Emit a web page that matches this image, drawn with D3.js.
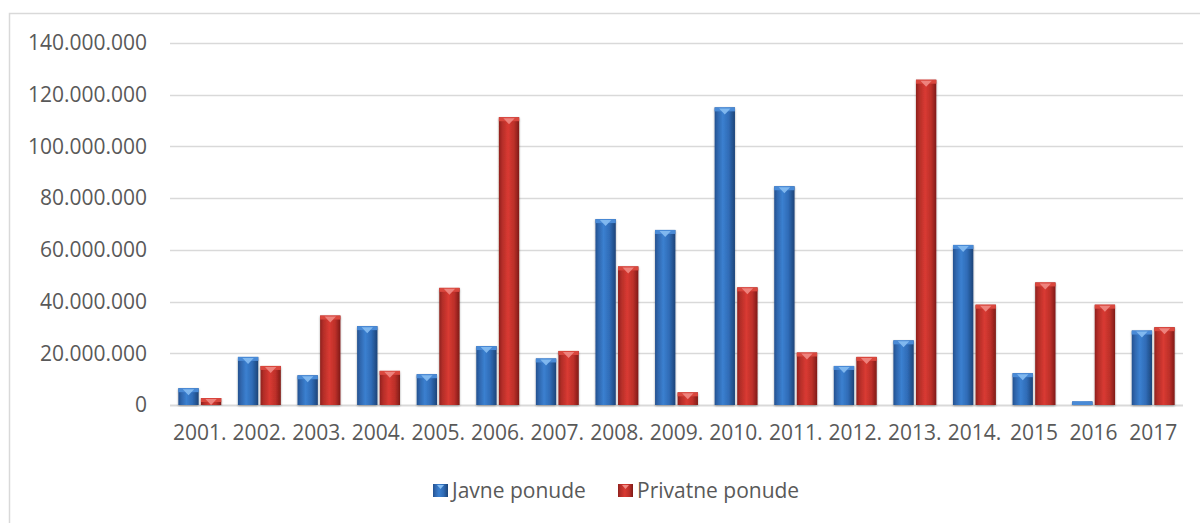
<!DOCTYPE html>
<html>
<head>
<meta charset="utf-8">
<script src="https://cdn.jsdelivr.net/npm/d3@7"></script>
<style>
  html, body { margin: 0; padding: 0; background: #fff; }
  svg { display: block; }
  text { font-family: "Open Sans", "Liberation Sans", sans-serif; fill: #595959; }
</style>
</head>
<body>
<svg id="chart" width="1200" height="523"></svg>
<script>
// Years on the category axis
const years = ["2001.", "2002.", "2003.", "2004.", "2005.", "2006.", "2007.", "2008.", "2009.",
               "2010.", "2011.", "2012.", "2013.", "2014.", "2015", "2016", "2017"];
// Series names
const seriesNames = ["Javne ponude", "Privatne ponude"];
// Public offerings
const javne = [6500000, 18600000, 11500000, 30500000, 11900000, 22800000, 18000000, 71900000, 67700000,
               115100000, 84600000, 15100000, 25000000, 61900000, 12300000, 1400000, 28800000];
// Private offerings
const privatne = [2700000, 15100000, 34600000, 13200000, 45300000, 111300000, 20900000, 53600000, 4900000,
                  45500000, 20300000, 18600000, 125800000, 38800000, 47400000, 38800000, 30100000];
// Value axis ticks
const yTicks = [0, 20000000, 40000000, 60000000, 80000000, 100000000, 120000000, 140000000];

const svg = d3.select("#chart");
const plot = { left: 170, right: 1183, top: 43, bottom: 405 };
const fontSize = "21px";

// outer chart frame (only its top and left edges fall inside the view)
svg.append("rect")
  .attr("x", 9.5).attr("y", 13.5).attr("width", 1300).attr("height", 600)
  .attr("fill", "none").attr("stroke", "#d9d9d9").attr("stroke-width", 1.5);

const x0 = d3.scaleBand().domain(years).range([plot.left, plot.right])
  .paddingInner(0.28).paddingOuter(0.14);
const x1 = d3.scaleBand().domain(seriesNames).range([0, x0.bandwidth()]).paddingInner(0.1);
const y = d3.scaleLinear().domain([0, 140000000]).range([plot.bottom, plot.top]);

const fmt = v => d3.format(",")(v).replace(/,/g, ".");

// gradients for the rounded-bar look
const defs = svg.append("defs");
function hGrad(id, stops) {
  const g = defs.append("linearGradient").attr("id", id)
    .attr("x1", "0").attr("x2", "1").attr("y1", "0").attr("y2", "0");
  stops.forEach(([o, c]) => g.append("stop").attr("offset", o).attr("stop-color", c));
}
hGrad("gBlue", [[0, "#24518f"], [0.15, "#2f66ad"], [0.4, "#3b80d0"], [0.7, "#2f6bb6"], [1, "#1d4478"]]);
hGrad("gRed", [[0, "#8e211d"], [0.15, "#b22d28"], [0.45, "#d93a32"], [0.75, "#bb2f29"], [1, "#7f1b17"]]);
const shadow = defs.append("filter").attr("id", "shadow")
  .attr("x", "-30%").attr("y", "-10%").attr("width", "160%").attr("height", "120%");
shadow.append("feGaussianBlur").attr("in", "SourceAlpha").attr("stdDeviation", 1.3).attr("result", "b");
shadow.append("feOffset").attr("in", "b").attr("dx", 0).attr("dy", 1).attr("result", "o");
shadow.append("feComponentTransfer").attr("in", "o").attr("result", "s")
  .append("feFuncA").attr("type", "linear").attr("slope", 0.35);
const merge = shadow.append("feMerge");
merge.append("feMergeNode").attr("in", "s");
merge.append("feMergeNode").attr("in", "SourceGraphic");

// gridlines
svg.append("g")
  .selectAll("line").data(yTicks).join("line")
  .attr("x1", plot.left).attr("x2", plot.right)
  .attr("y1", d => Math.round(y(d)) + 0.5).attr("y2", d => Math.round(y(d)) + 0.5)
  .attr("stroke", "#d9d9d9").attr("stroke-width", d => d === 0 ? 2 : 1.5);

// value axis labels
const yAxis = d3.axisLeft(y).tickValues(yTicks).tickFormat(fmt).tickSize(0).tickPadding(23);
const gy = svg.append("g").attr("transform", `translate(${plot.left},0)`).call(yAxis);
gy.select(".domain").remove();
gy.selectAll("text").style("font-size", fontSize).attr("fill", "#595959")
  .style("font-family", "'Open Sans', sans-serif");

// category axis labels
const xAxis = d3.axisBottom(x0).tickSize(0).tickPadding(20);
const gx = svg.append("g").attr("transform", `translate(0,${plot.bottom})`).call(xAxis);
gx.select(".domain").remove();
gx.selectAll("text").style("font-size", fontSize).attr("fill", "#595959")
  .style("font-family", "'Open Sans', sans-serif");

// bars
const rows = years.map((yr, i) => ({ year: yr, vals: [
  { key: seriesNames[0], v: javne[i] }, { key: seriesNames[1], v: privatne[i] }] }));
const style = {
  "Javne ponude": { fill: "url(#gBlue)", cap: "#4a8ad6", tri: "#86bdf2" },
  "Privatne ponude": { fill: "url(#gRed)", cap: "#d9463e", tri: "#f08a84" }
};

const groups = svg.append("g").selectAll("g").data(rows).join("g")
  .attr("transform", d => `translate(${x0(d.year)},0)`);

const bar = groups.selectAll("g").data(d => d.vals).join("g").attr("filter", "url(#shadow)");
bar.append("rect")
  .attr("x", d => x1(d.key)).attr("width", x1.bandwidth())
  .attr("y", d => y(d.v)).attr("height", d => y(0) - y(d.v))
  .attr("fill", d => style[d.key].fill);
// light cap on top of each bar
bar.append("rect")
  .attr("x", d => x1(d.key)).attr("width", x1.bandwidth())
  .attr("y", d => y(d.v)).attr("height", d => Math.min(4, y(0) - y(d.v)))
  .attr("fill", d => style[d.key].cap);
bar.filter(d => y(0) - y(d.v) > 5).append("path")
  .attr("d", d => {
    const bx = x1(d.key), w = x1.bandwidth(), t = y(d.v);
    return `M${bx + w * 0.22},${t + 1}L${bx + w * 0.78},${t + 1}L${bx + w / 2},${t + 7}Z`;
  })
  .attr("fill", d => style[d.key].tri).attr("opacity", 0.9);

// legend
const legend = svg.append("g").attr("transform", "translate(433,484)");
const legItems = [
  { name: seriesNames[0], fill: "url(#gBlue)", tri: "#86bdf2", x: 0 },
  { name: seriesNames[1], fill: "url(#gRed)", tri: "#f08a84", x: 185 }
];
const li = legend.selectAll("g").data(legItems).join("g").attr("transform", d => `translate(${d.x},0)`);
li.append("rect").attr("width", 15).attr("height", 13).attr("fill", d => d.fill);
li.append("path").attr("d", "M4,1L11,1L7.5,5Z").attr("fill", d => d.tri);
li.append("text").attr("x", 19).attr("y", 14).text(d => d.name)
  .style("font-size", fontSize);
</script>
</body>
</html>
